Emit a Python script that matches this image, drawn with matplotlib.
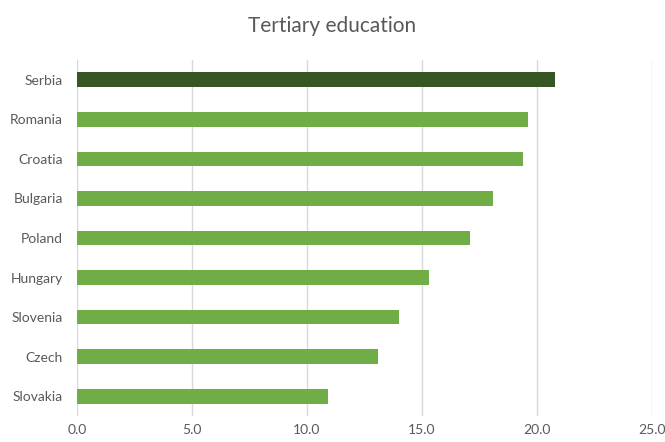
import matplotlib
matplotlib.use("Agg")
import matplotlib.pyplot as plt

countries = ["Serbia", "Romania", "Croatia", "Bulgaria", "Poland",
             "Hungary", "Slovenia", "Czech", "Slovakia"]
values = [20.8, 19.6, 19.4, 18.1, 17.1, 15.3, 14.0, 13.1, 10.9]
xticks = [0, 5, 10, 15, 20, 25]

LIGHT = "#70AD47"
DARK = "#375623"
TEXT = "#595959"

plt.rcParams["font.family"] = ["Lato", "DejaVu Sans"]

fig = plt.figure(figsize=(6.65, 4.42), dpi=100)
ax = fig.add_axes([77 / 665, 26 / 442, 575 / 665, 356 / 442])

y = list(range(len(countries)))
colors = [DARK] + [LIGHT] * (len(countries) - 1)
ax.barh(y, values, height=0.37, color=colors, zorder=3)

ax.set_ylim(len(countries) - 0.5, -0.5)
ax.set_xlim(0, 25)
ax.set_yticks(y)
ax.set_yticklabels(countries, fontsize=10, color=TEXT)
ax.set_xticks(xticks)
ax.set_xticklabels([f"{t:.1f}" for t in xticks], fontsize=10, color=TEXT)
ax.tick_params(axis="y", length=0, pad=10)
ax.tick_params(axis="x", length=0, pad=6)

ax.grid(axis="x", color="#d9d9d9", linewidth=1, zorder=0)
for s in ax.spines.values():
    s.set_visible(False)

fig.text(0.5, 1 - 26 / 442, "Tertiary education", ha="center", va="center",
         fontsize=15, color=TEXT)

fig.savefig("out.png", dpi=100)
